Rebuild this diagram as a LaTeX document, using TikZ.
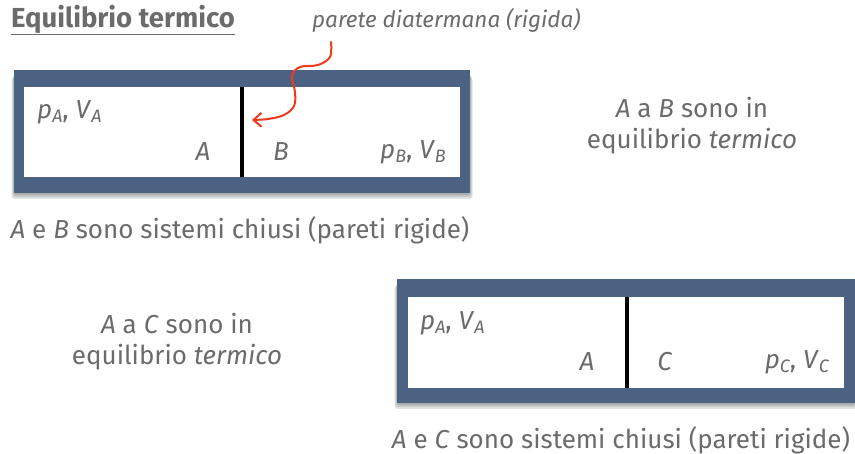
\documentclass[tikz,border=0pt]{standalone}
\usepackage{fontspec}
\setmainfont{Fira Sans}
\usetikzlibrary{arrows.meta}
\definecolor{txt}{HTML}{6B6B6B}
\definecolor{framec}{HTML}{4C6283}
\definecolor{arrc}{HTML}{F03A1E}
\newcommand\sbs[1]{\raisebox{-0.3ex}{\fontsize{18}{18}\selectfont\itshape #1}}
\newcommand\tsz{\fontsize{26}{31}\selectfont}
\begin{document}
\begin{tikzpicture}[x=1pt,y=-1pt,
  every node/.style={text=txt, inner sep=0pt, font=\tsz},
  frame/.style={fill=framec, anchor=north west},
  inner/.style={fill=white, anchor=north west},
  divider/.style={fill=black, minimum width=4pt, minimum height=90pt},
  shadow/.style={fill=black, opacity=0.12, rounded corners=3pt}]
\useasboundingbox (0,0) rectangle (855,454);
% title and label
\node[anchor=west, font=\fontsize{27.5}{31}\selectfont\bfseries] (title) at (11,20) {\underline{Equilibrio termico}};
\node[anchor=west, font=\fontsize{22.5}{26}\selectfont\itshape] (lbl) at (312,20) {parete diatermana (rigida)};
% box 1
\foreach \d in {1,3,5} \fill[shadow] (14-\d/2,72+\d) rectangle (470+\d/2,194+\d);
\node[frame, minimum width=456pt, minimum height=123pt] (f1) at (14,70) {};
\node[inner, minimum width=436pt, minimum height=90pt] (w1) at (24,87) {};
\node[divider] (d1) at (242,132) {};
\node[anchor=west] (pa1) at (37,112) {\textit{p}\sbs{A}, \textit{V}\sbs{A}};
\node (a1) at (203,152) {\textit{A}};
\node (b1) at (281,152) {\textit{B}};
\node[anchor=east] (pb1) at (446,152) {\textit{p}\sbs{B}, \textit{V}\sbs{B}};
\node (cap1) at (240,230) {\textit{A} e \textit{B} sono sistemi chiusi (pareti rigide)};
\node[align=center] (eq1) at (692,126) {\textit{A} a \textit{B} sono in\\equilibrio \textit{termico}};
% arrow
\coordinate (s) at (331,42);
\coordinate (t) at (252,120);
\draw[arrc, line width=2pt, line cap=round, -{Straight Barb[length=8pt,width=14pt]}]
  plot[smooth, tension=0.6] coordinates {(s) (330,57) (318,65) (300,67) (292,76) (295,92) (294,106) (284,115) (268,119) (t)};
% box 2
\foreach \d in {1,3,5} \fill[shadow] (397-\d/2,281+\d) rectangle (855+\d/2,404+\d);
\node[frame, minimum width=460pt, minimum height=124pt] (f2) at (397,279) {};
\node[inner, minimum width=436pt, minimum height=91pt] (w2) at (408,297) {};
\node[divider, minimum height=91pt] (d2) at (627,342.5) {};
\node[anchor=west] (pa2) at (420,323) {\textit{p}\sbs{A}, \textit{V}\sbs{A}};
\node (a2) at (587,362) {\textit{A}};
\node (c2) at (665,362) {\textit{C}};
\node[anchor=east] (pc2) at (829,362) {\textit{p}\sbs{C}, \textit{V}\sbs{C}};
\node (cap2) at (621,440) {\textit{A} e \textit{C} sono sistemi chiusi (pareti rigide)};
\node[align=center] (eq2) at (177,342) {\textit{A} a \textit{C} sono in\\equilibrio \textit{termico}};
\end{tikzpicture}
\end{document}
